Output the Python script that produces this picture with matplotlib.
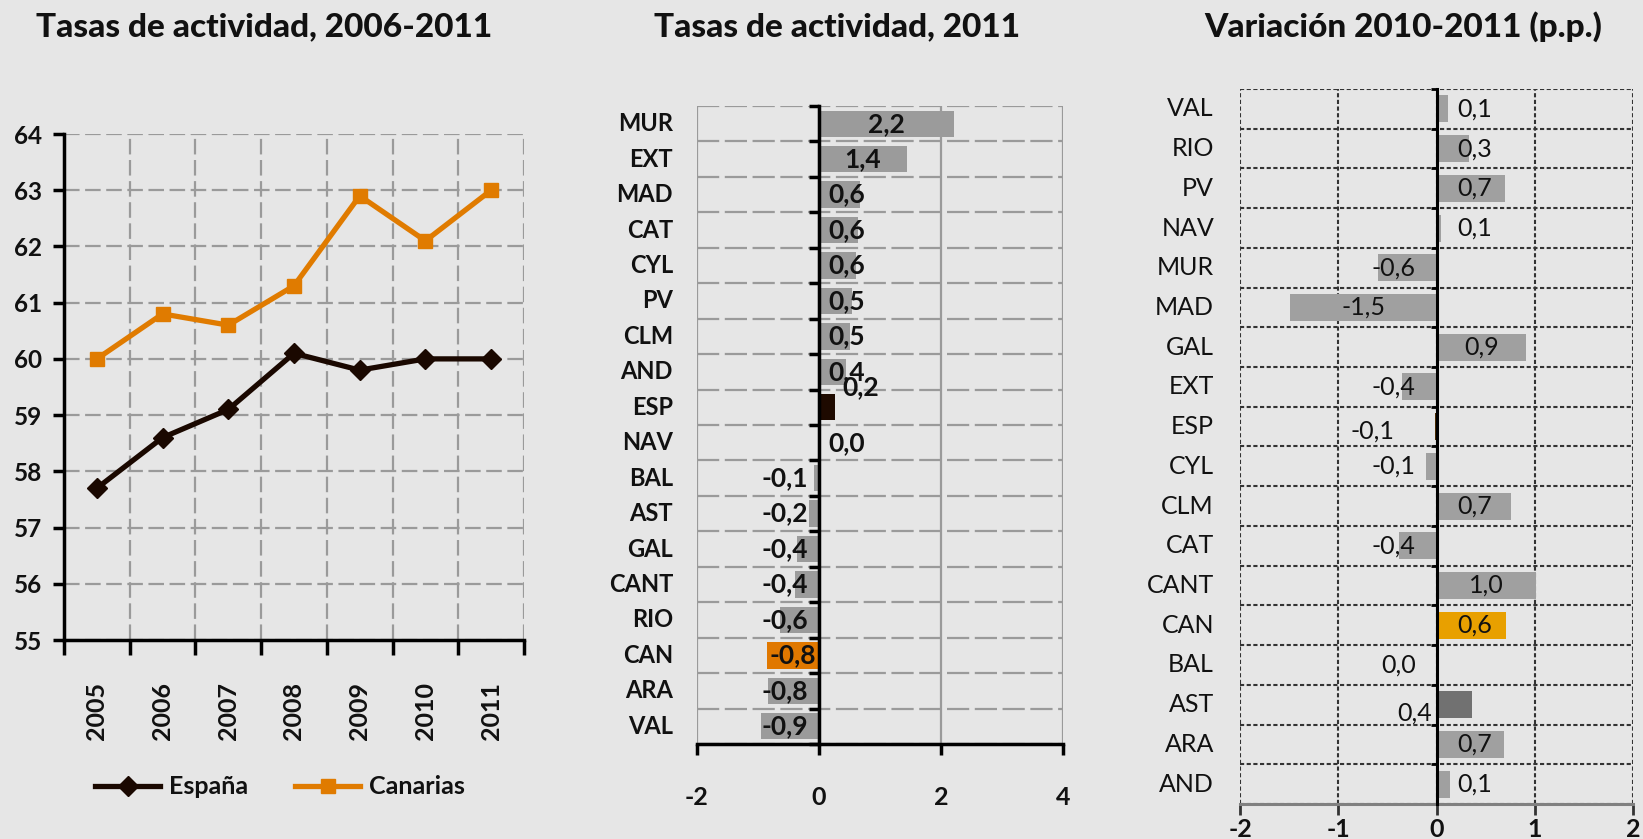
import matplotlib
matplotlib.use("Agg")
import matplotlib.pyplot as plt
import matplotlib.transforms as mtransforms

# ---------------- data ----------------
years = ["2005", "2006", "2007", "2008", "2009", "2010", "2011"]
espana = [57.7, 58.6, 59.1, 60.1, 59.8, 60.0, 60.0]
canarias = [60.0, 60.8, 60.6, 61.3, 62.9, 62.1, 63.0]

mid_regions = ["MUR", "EXT", "MAD", "CAT", "CYL", "PV", "CLM", "AND", "ESP",
               "NAV", "BAL", "AST", "GAL", "CANT", "RIO", "CAN", "ARA", "VAL"]
mid_values = [2.21, 1.44, 0.68, 0.64, 0.61, 0.54, 0.50, 0.45, 0.26,
              0.0, -0.08, -0.16, -0.36, -0.39, -0.64, -0.85, -0.84, -0.95]
mid_labels = ["2,2", "1,4", "0,6", "0,6", "0,6", "0,5", "0,5", "0,4", "0,2",
              "0,0", "-0,1", "-0,2", "-0,4", "-0,4", "-0,6", "-0,8", "-0,8", "-0,9"]

right_regions = ["VAL", "RIO", "PV", "NAV", "MUR", "MAD", "GAL", "EXT", "ESP",
                 "CYL", "CLM", "CAT", "CANT", "CAN", "BAL", "AST", "ARA", "AND"]
right_values = [0.12, 0.33, 0.70, 0.05, -0.60, -1.49, 0.91, -0.35, -0.02,
                -0.11, 0.76, -0.38, 1.01, 0.71, 0.0, 0.36, 0.69, 0.14]
right_labels = ["0,1", "0,3", "0,7", "0,1", "-0,6", "-1,5", "0,9", "-0,4", "-0,1",
                "-0,1", "0,7", "-0,4", "1,0", "0,6", "0,0", "0,4", "0,7", "0,1"]

# ---------------- style ----------------
W, H, DPI = 1643, 839, 100
BG = "#e6e6e6"
TXT = "#111111"
plt.rcParams["font.family"] = ["Lato", "DejaVu Sans"]
plt.rcParams["text.color"] = TXT
plt.rcParams["xtick.color"] = "black"
plt.rcParams["ytick.color"] = "black"
plt.rcParams["xtick.labelcolor"] = TXT
plt.rcParams["ytick.labelcolor"] = TXT

fig = plt.figure(figsize=(W / DPI, H / DPI), dpi=DPI, facecolor=BG)


def px_axes(l, t, r, b):
    ax = fig.add_axes([l / W, 1 - b / H, (r - l) / W, (b - t) / H])
    ax.set_facecolor(BG)
    return ax


# ================= left: line chart =================
ax1 = px_axes(64, 134, 524, 640)
xs = list(range(len(years)))
ax1.set_axisbelow(True)
l_es, = ax1.plot(xs, espana, color="#1a0800", lw=3.8, marker="D", ms=10,
                 label="España", zorder=3)
l_ca, = ax1.plot(xs, canarias, color="#e07b00", lw=3.8, marker="s", ms=9.5,
                 label="Canarias", zorder=3)
ax1.set_xlim(-0.5, len(years) - 0.5)
ax1.set_ylim(55, 64)
ax1.set_yticks(range(55, 65))
ax1.set_yticklabels([str(v) for v in range(55, 65)], fontsize=17.5, fontweight="bold")
ax1.set_xticks([i - 0.5 for i in range(len(years) + 1)])
ax1.set_xticklabels([])
ax1.set_xticks(xs, minor=True)
ax1.set_xticklabels(years, minor=True, rotation=90, fontsize=18, fontweight="bold")
ax1.tick_params(axis="x", which="minor", length=0, pad=30)
ax1.tick_params(axis="x", which="major", length=11, width=2.5, direction="out")
ax1.tick_params(axis="y", length=8, width=2.5, pad=8)
ax1.grid(True, which="major", color="#9a9a9a", lw=1.6, ls=(0, (7, 2.5)))
for s in ("top", "right"):
    ax1.spines[s].set_visible(False)
for s in ("left", "bottom"):
    ax1.spines[s].set_linewidth(2.5)
    ax1.spines[s].set_color("black")

fig.legend(handles=[l_es, l_ca], loc="center", bbox_to_anchor=(280 / W, 1 - 787 / H),
           ncol=2, frameon=False, prop={"size": 18, "weight": "bold"},
           handlelength=2.6, handletextpad=0.35, columnspacing=1.9, numpoints=1)

# ---------------- titles ----------------
for xc, title in [(264, "Tasas de actividad, 2006-2011"),
                  (837, "Tasas de actividad, 2011"),
                  (1403, "Variación 2010-2011 (p.p.)")]:
    fig.text(xc / W, 1 - 27 / H, title, ha="center", va="center",
             fontsize=24, fontweight="black")


# ================= helpers for bar panels =================
def place_value_labels(ax, values, labels, regions, pad_pos, pad_neg, adjust,
                       fontsize, weight):
    renderer = fig.canvas.get_renderer()
    bbox = ax.get_window_extent(renderer)
    x0, x1 = ax.get_xlim()
    ppu = bbox.width / (x1 - x0)
    n = len(values)
    row_px = bbox.height / n
    for i, (v, lab, reg) in enumerate(zip(values, labels, regions)):
        t = ax.text(0, i, lab, ha="center", va="center", fontsize=fontsize,
                    fontweight=weight, zorder=5)
        w = t.get_window_extent(renderer).width
        side = "pos" if v >= 0 else "neg"
        pp, pn, dy = pad_pos, pad_neg, 0
        if reg in adjust:
            a = adjust[reg]
            side = a.get("side", side)
            pp = a.get("pad", pp) if side == "pos" else pp
            pn = a.get("pad", pn) if side == "neg" else pn
            dy = a.get("dy", 0)
        bar_c = v / 2 * ppu
        if side == "pos":
            cx = max(bar_c, pp + w / 2) if v >= 0 else pp + w / 2
        else:
            cx = min(bar_c, -(pn + w / 2)) if v <= 0 else -(pn + w / 2)
        t.set_position((cx / ppu, i - dy / row_px))


def category_labels(ax, regions, offset_px, fontsize, weight):
    renderer = fig.canvas.get_renderer()
    bbox = ax.get_window_extent(renderer)
    trans = mtransforms.blended_transform_factory(ax.transAxes, ax.transData)
    for i, r in enumerate(regions):
        ax.text(-offset_px / bbox.width, i, r, transform=trans, ha="right",
                va="center", fontsize=fontsize, fontweight=weight)


# ================= middle: bars 2011 =================
ax2 = px_axes(697, 106, 1063, 744)
n2 = len(mid_regions)
c2 = ["#e07800" if r == "CAN" else "#1e0a00" if r == "ESP" else "#9b9b9b"
      for r in mid_regions]
ax2.barh(range(n2), mid_values, height=0.74, color=c2, zorder=2)
ax2.set_xlim(-2, 4)
ax2.set_ylim(n2 - 0.5, -0.5)
ax2.set_xticks([-2, 0, 2, 4])
ax2.set_xticklabels(["-2", "0", "2", "4"], fontsize=18, fontweight="bold")
ax2.set_yticks([i - 0.5 for i in range(n2 + 1)])
ax2.set_yticklabels([])
ax2.spines["left"].set_position(("data", 0))
ax2.spines["left"].set_linewidth(2.5)
ax2.spines["left"].set_zorder(4)
ax2.spines["bottom"].set_linewidth(2.5)
for s in ("top", "right"):
    ax2.spines[s].set_visible(False)
ax2.tick_params(axis="y", direction="out", length=7, width=2.5)
ax2.tick_params(axis="x", direction="out", length=8, width=2.5, pad=22)
ax2.set_axisbelow(True)
ax2.yaxis.grid(True, color="#9a9a9a", lw=1.6, ls=(0, (10, 2.5)))
ax2.xaxis.grid(True, color="#9a9a9a", lw=1.6, ls="-")
category_labels(ax2, mid_regions, 24, 17, "bold")
place_value_labels(ax2, mid_values, mid_labels, mid_regions, pad_pos=9, pad_neg=11,
                   adjust={"ESP": {"side": "pos", "pad": 23, "dy": 20},
                           "CAN": {"side": "neg", "pad": 2}},
                   fontsize=19, weight="bold")

# ================= right: variation =================
ax3 = px_axes(1240, 89, 1633, 804)
n3 = len(right_regions)
c3 = ["#e8a000" if r == "CAN" else "#4a2a00" if r == "ESP" else
      "#717171" if r == "AST" else "#a0a0a0" for r in right_regions]
ax3.barh(range(n3), right_values, height=0.68, color=c3, zorder=2)
ax3.set_xlim(-2, 2)
ax3.set_ylim(n3 - 0.5, -0.5)
ax3.set_xticks([-2, -1, 0, 1, 2])
ax3.set_xticklabels(["-2", "-1", "0", "1", "2"], fontsize=18, fontweight="bold")
ax3.set_yticks([i - 0.5 for i in range(n3 + 1)])
ax3.set_yticklabels([])
ax3.spines["left"].set_position(("data", 0))
ax3.spines["left"].set_linewidth(2.2)
ax3.spines["left"].set_zorder(4)
ax3.spines["bottom"].set_linewidth(2.2)
ax3.spines["bottom"].set_color("#808080")
for s in ("top", "right"):
    ax3.spines[s].set_visible(False)
ax3.tick_params(axis="y", direction="out", length=4, width=2)
ax3.tick_params(axis="x", direction="out", length=8, width=2, color="#333333", pad=2)
ax3.set_axisbelow(True)
ax3.grid(True, color="#333333", lw=1.5, ls=(0, (2, 1.2)))
category_labels(ax3, right_regions, 26, 18, "normal")
place_value_labels(ax3, right_values, right_labels, right_regions, pad_pos=21,
                   pad_neg=21,
                   adjust={"ESP": {"side": "neg", "pad": 42, "dy": -4},
                           "AST": {"side": "neg", "pad": 4, "dy": -8},
                           "BAL": {"side": "neg", "pad": 21}},
                   fontsize=18, weight="normal")

fig.savefig("out.png", dpi=DPI, facecolor=BG)
